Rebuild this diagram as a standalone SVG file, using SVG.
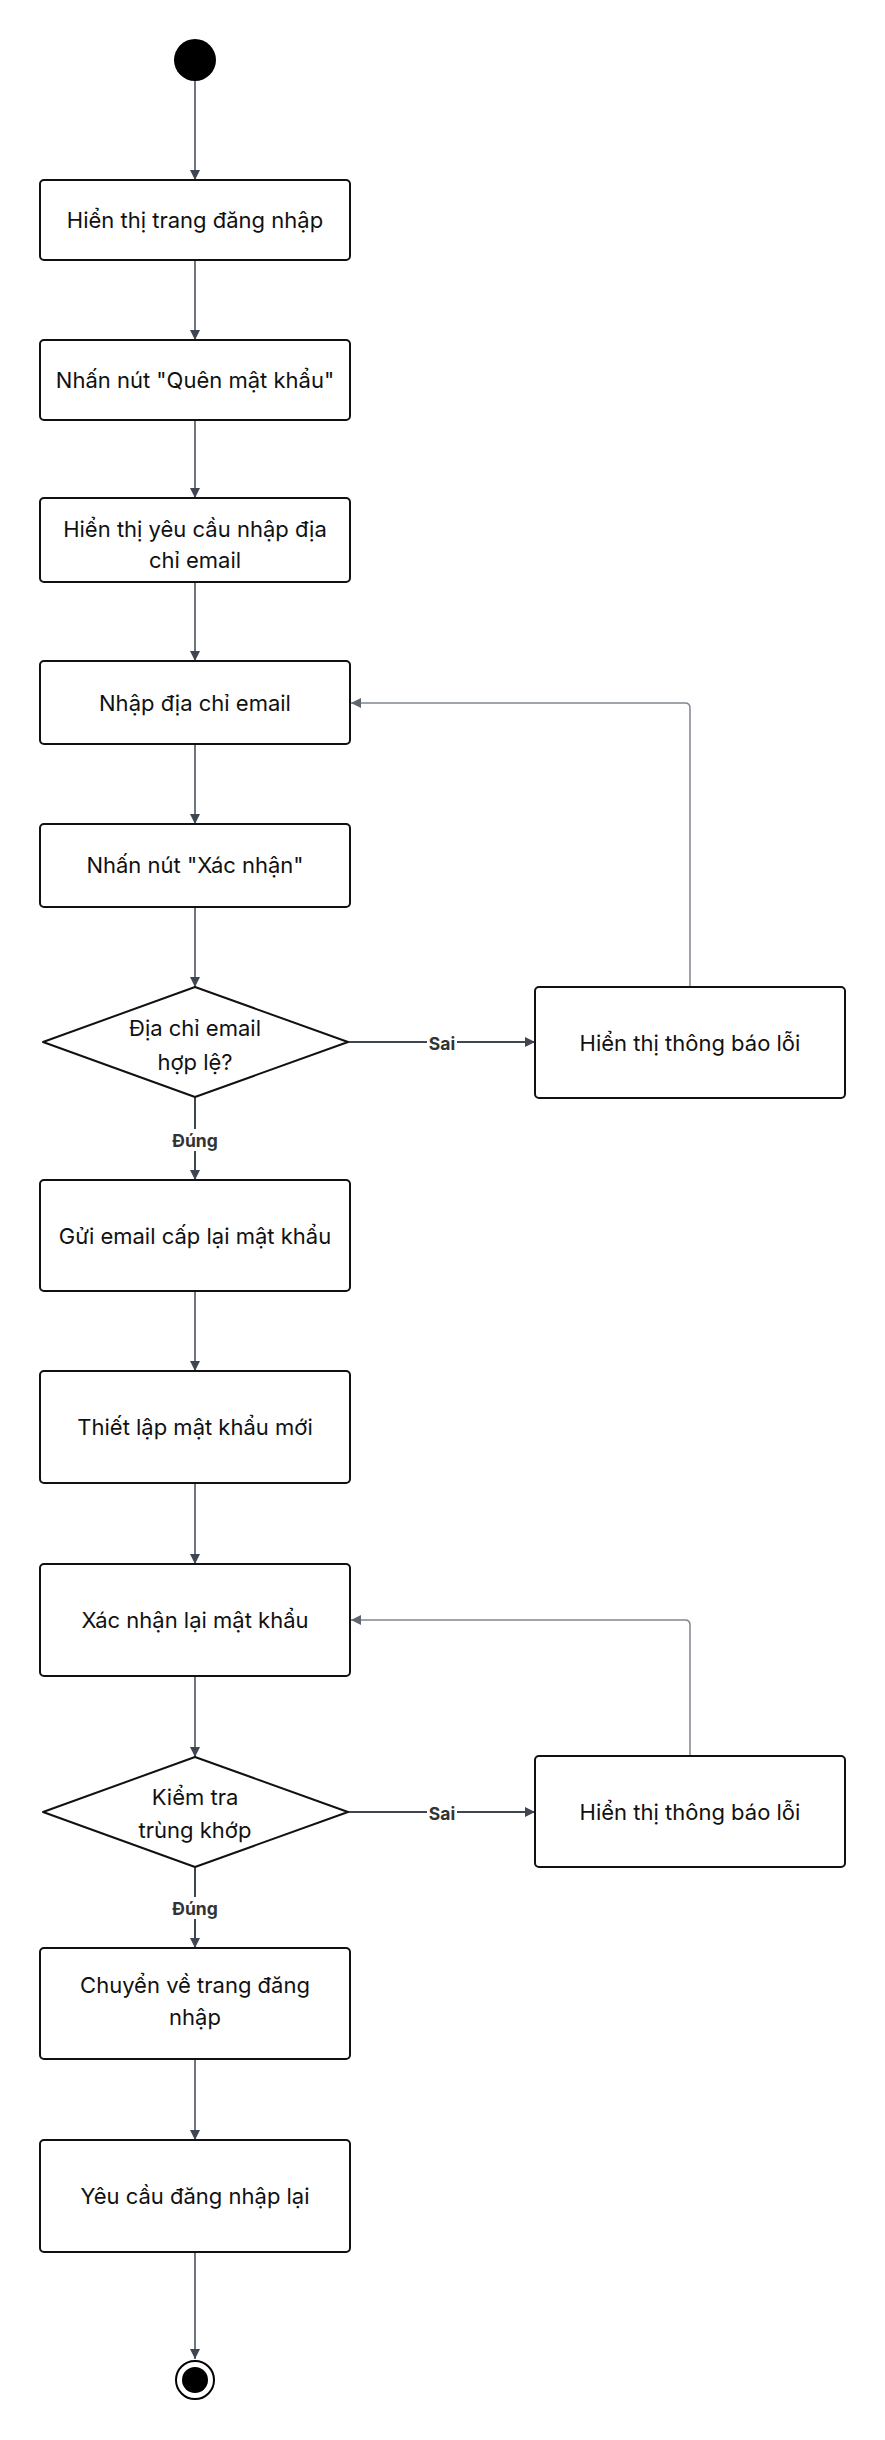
<svg xmlns="http://www.w3.org/2000/svg" width="885" height="2440" viewBox="0 0 885 2440">
<defs>
<marker id="arr" viewBox="0 0 10 10" refX="10" refY="5" markerWidth="10" markerHeight="10" markerUnits="userSpaceOnUse" orient="auto">
<path d="M0,0 L10,5 L0,10 z" fill="#3f4652"/>
</marker>
<marker id="arrG" viewBox="0 0 10 10" refX="10" refY="5" markerWidth="10" markerHeight="10" markerUnits="userSpaceOnUse" orient="auto">
<path d="M0,0 L10,5 L0,10 z" fill="#5f6670"/>
</marker>
<style>
.box{fill:#fff;stroke:#111;stroke-width:2}
.t{font-family:Inter,"Noto Sans",sans-serif;font-size:22px;fill:#111;text-anchor:middle;dominant-baseline:central}
.e{fill:none;stroke:#3f4652;stroke-width:1.5;marker-end:url(#arr)}
.eb{fill:none;stroke:#3f4652;stroke-width:2;marker-end:url(#arr)}
.loop{fill:none;stroke:#80868e;stroke-width:1.5;marker-end:url(#arrG)}
.lbl{font-family:Inter,"Noto Sans",sans-serif;font-size:17.5px;font-weight:bold;fill:#333;text-anchor:middle;dominant-baseline:central}
.lb{fill:#fff}
</style>
</defs>
<rect width="885" height="2440" fill="#fff"/>
<g id="connectors">
<path class="e" d="M195,81 V180"/>
<path class="e" d="M195,260 V340"/>
<path class="e" d="M195,420 V498"/>
<path class="e" d="M195,582 V661"/>
<path class="e" d="M195,744 V824"/>
<path class="e" d="M195,907 V987"/>
<path class="eb" d="M195,1097 V1180"/>
<path class="eb" d="M348,1042 H535"/>
<path class="loop" d="M690,987 V708 Q690,703 685,703 H351"/>
<path class="e" d="M195,1291 V1371"/>
<path class="e" d="M195,1483 V1564"/>
<path class="e" d="M195,1676 V1757"/>
<path class="eb" d="M195,1867 V1948"/>
<path class="eb" d="M348,1812 H535"/>
<path class="loop" d="M690,1756 V1625 Q690,1620 685,1620 H351"/>
<path class="e" d="M195,2059 V2140"/>
<path class="e" d="M195,2252 V2359"/>
<rect class="lb" x="168" y="1129" width="54" height="22"/>
<text class="lbl" x="195" y="1140">Đúng</text>
<rect class="lb" x="427" y="1033" width="30" height="20"/>
<text class="lbl" x="442" y="1043">Sai</text>
<rect class="lb" x="168" y="1897" width="54" height="22"/>
<text class="lbl" x="195" y="1908">Đúng</text>
<rect class="lb" x="427" y="1803" width="30" height="20"/>
<text class="lbl" x="442" y="1813">Sai</text>
</g>
<g id="start"><circle cx="195" cy="60" r="21" fill="#000"/></g>
<g id="n1"><rect class="box" x="40" y="180" width="310" height="80" rx="4"/><text class="t" x="195" y="220">Hiển thị trang đăng nhập</text></g>
<g id="n2"><rect class="box" x="40" y="340" width="310" height="80" rx="4"/><text class="t" x="195" y="380">Nhấn nút "Quên mật khẩu"</text></g>
<g id="n3"><rect class="box" x="40" y="498" width="310" height="84" rx="4"/><text class="t" x="195" y="529">Hiển thị yêu cầu nhập địa</text><text class="t" x="195" y="560">chỉ email</text></g>
<g id="n4"><rect class="box" x="40" y="661" width="310" height="83" rx="4"/><text class="t" x="195" y="703">Nhập địa chỉ email</text></g>
<g id="n5"><rect class="box" x="40" y="824" width="310" height="83" rx="4"/><text class="t" x="195" y="865">Nhấn nút "Xác nhận"</text></g>
<g id="d1"><path class="box" stroke-linejoin="round" d="M195,987 L348,1042 L195,1097 L43,1042 Z"/><text class="t" x="195" y="1028">Địa chỉ email</text><text class="t" x="195" y="1062">hợp lệ?</text></g>
<g id="err1"><rect class="box" x="535" y="987" width="310" height="111" rx="4"/><text class="t" x="690" y="1043">Hiển thị thông báo lỗi</text></g>
<g id="n6"><rect class="box" x="40" y="1180" width="310" height="111" rx="4"/><text class="t" x="195" y="1236">Gửi email cấp lại mật khẩu</text></g>
<g id="n7"><rect class="box" x="40" y="1371" width="310" height="112" rx="4"/><text class="t" x="195" y="1427">Thiết lập mật khẩu mới</text></g>
<g id="n8"><rect class="box" x="40" y="1564" width="310" height="112" rx="4"/><text class="t" x="195" y="1620">Xác nhận lại mật khẩu</text></g>
<g id="d2"><path class="box" stroke-linejoin="round" d="M195,1757 L348,1812 L195,1867 L43,1812 Z"/><text class="t" x="195" y="1797">Kiểm tra</text><text class="t" x="195" y="1830">trùng khớp</text></g>
<g id="err2"><rect class="box" x="535" y="1756" width="310" height="111" rx="4"/><text class="t" x="690" y="1812">Hiển thị thông báo lỗi</text></g>
<g id="n9"><rect class="box" x="40" y="1948" width="310" height="111" rx="4"/><text class="t" x="195" y="1985">Chuyển về trang đăng</text><text class="t" x="195" y="2017">nhập</text></g>
<g id="n10"><rect class="box" x="40" y="2140" width="310" height="112" rx="4"/><text class="t" x="195" y="2196">Yêu cầu đăng nhập lại</text></g>
<g id="end"><circle cx="195" cy="2380" r="19" fill="#fff" stroke="#000" stroke-width="2"/><circle cx="195" cy="2380" r="13" fill="#000"/></g>
</svg>
